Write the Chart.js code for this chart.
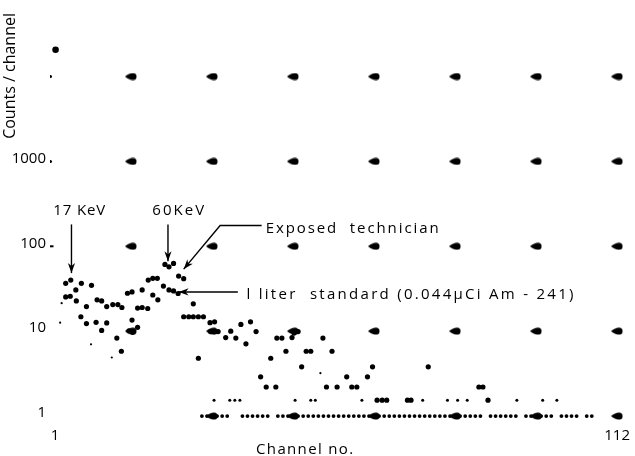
<!DOCTYPE html>
<html><head><meta charset="utf-8">
<script src="https://cdn.jsdelivr.net/npm/chart.js@4/dist/chart.umd.min.js"></script>
<style>html,body{margin:0;padding:0;background:#fff;}#wrap{width:635px;height:456px;}</style>
</head><body><div id="wrap"><canvas id="c" width="635" height="456"></canvas></div>
<script>
// ---- data ----
const spectrumChannels = [3.1,4.1,6.2,8.2,5.1,3.1,4.0,5.2,7.2,9.3,10.2,11.2,12.4,13.4,14.2,6.1,7.2,9.1,11.2,10.2,13.2,14.1,15.3,16.2,18.2,19.4,20.3,21.2,20.3,17.3,18.2,19.3,16.2,15.6,16.3,17.3,21.3,22.7,23.5,24.4,25.4,26.4,22.4,23.5,24.4,25.3,28.3,26.4,27.4,28.3,29.3,30.3,31.6,32.5,31.7,32.4,33.2,34.7,35.7,36.7,37.7,39.6,40.7,38.7,29.3,44.8,45.8,47.8,48.2,49.0,53.9,46.6,50.6,51.5,55.7,43.6,49.7,41.6,58.6,42.7,44.6,54.6,56.7,59.6,60.6,62.7,63.7,74.7,84.7,85.5,86.5,64.6,65.6,66.5,70.6,71.3];
const spectrumCounts = [36.6,40,36.6,34.7,30.6,25.3,25.8,22.7,19.5,23.4,22.7,19.5,20.6,20.6,19.0,14.8,12.3,12.7,12.5,10.2,8.3,5.8,28.0,29.0,30.6,40.0,41.9,41.9,26.7,18.7,19.0,18.5,13.5,10.1,9.7,11.1,23.4,61.1,57.3,62.8,44.6,41.5,34.0,30.6,29.8,27.8,21.0,14.8,14.8,14.8,14.8,14.8,12.6,12.9,9.9,9.9,9.9,8.4,10.0,8.3,12.0,12.9,9.9,7.1,4.8,8.3,8.3,8.4,9.5,9.9,8.3,5.8,5.8,5.8,5.8,4.8,3.8,2.9,2.9,2.2,2.2,2.2,2.2,2.2,2.2,2.9,3.8,3.8,2.2,2.2,1.54,1.54,1.54,1.54,1.54,1.54];
const faintChannels = [2.0,2.3,8.1,12.2,53.4,32.4,35.5,36.5,37.5,48.4,51.5,52.4,61.6,73.6,78.5,80.5,82.4,92.2,97.3,100.1];
const faintCounts = [12.6,21.4,7.0,4.9,3.2,1.54,1.54,1.54,1.54,1.54,1.54,1.54,1.54,1.54,1.54,1.54,1.54,1.54,1.54,1.54];
const baselineChannels = [30,31,32,33,34,35,38,39,40,41,42,43,45,46,47,48,49,50,51,52,53,54,55,56,57,58,59,60,61,62,63,64,65,66,67,68,69,70,71,72,73,74,75,76,77,78,79,80,81,82,83,84,85,87,88,89,90,91,92,94,95,96,97,98,99,101,102,103,104,106,107];
const baselineCounts = [1,1,1,1,1,1,1,1,1,1,1,1,1,1,1,1,1,1,1,1,1,1,1,1,1,1,1,1,1,1,1,1,1,1,1,1,1,1,1,1,1,1,1,1,1,1,1,1,1,1,1,1,1,1,1,1,1,1,1,1,1,1,1,1,1,1,1,1,1,1,1];
// grid-mark positions (decade rows x channel columns)
const gridColumns = [16,32,48,64,80,96,112];
const gridRows = [10000,1000,100,10];
const gridColumnsRow1 = [32,48,64,80,96,112];
// ticks
const xTickValues = [1,112];
const xTickLabels = ['1','112'];
const yTickValues = [1,10,100,1000];
const yTickLabels = ['1','10','100','1000'];

const FONT = '"Open Sans","DejaVu Sans",sans-serif';

function pts(xs, ys){ return xs.map((x,i)=>({x:x, y:ys[i]})); }

const gridData = [];
gridRows.forEach(r=>gridColumns.forEach(c=>gridData.push({x:c,y:r})));
gridColumnsRow1.forEach(c=>gridData.push({x:c,y:1}));

// teardrop marker pointing left
const tear = document.createElement('canvas');
tear.width = 12; tear.height = 8;
(function(){
  const g = tear.getContext('2d');
  g.fillStyle = '#000';
  g.beginPath();
  g.moveTo(0,4);
  g.bezierCurveTo(2.5,1.8,5,0.5,8,0.5);
  g.arc(8,4,3.5,-Math.PI/2,Math.PI/2);
  g.bezierCurveTo(5,7.5,2.5,6.2,0,4);
  g.fill();
})();

const annotations = {
  texts: [
    {text:'17 KeV', x:0.64, y:235, width:52, size:15},
    {text:'60KeV', x:20.2, y:235, width:52, size:15},
    {text:'Exposed  technician', x:42.6, y:143, width:173, size:15},
    {text:'l liter  standard (0.044\u03BCCi Am - 241)', x:38.8, y:24.0, width:327, size:15}
  ],
  arrows: [
    {path:[[4.24,181],[4.24,48.3]]},
    {path:[[23.3,181],[23.3,66.8]]},
    {path:[[41.8,176],[33.6,176],[26.4,53.8]]},
    {path:[[37.1,29],[25.4,29]]}
  ],
  xTitle: {text:'Channel no.', x:40.7, width:97, size:15, below:29}
};

function fitText(ctx, text, size, width){
  ctx.font = '400 ' + size + 'px ' + FONT;
  ctx.letterSpacing = '0px';
  const w = ctx.measureText(text).width;
  const n = [...text].length;
  ctx.letterSpacing = ((width - w)/(n-1)).toFixed(2) + 'px';
}

const annotationPlugin = {
  id:'annot',
  afterDatasetsDraw(chart){
    const ctx = chart.ctx, xs = chart.scales.x, ys = chart.scales.y;
    const P = (a)=>[xs.getPixelForValue(a[0]), ys.getPixelForValue(a[1])];
    ctx.save();
    ctx.fillStyle = '#000'; ctx.strokeStyle = '#000';
    ctx.textBaseline = 'alphabetic'; ctx.textAlign = 'left';
    annotations.texts.forEach(t=>{
      fitText(ctx, t.text, t.size, t.width);
      const p = P([t.x,t.y]);
      ctx.fillText(t.text, p[0], p[1]);
    });
    const xt = annotations.xTitle;
    fitText(ctx, xt.text, xt.size, xt.width);
    ctx.fillText(xt.text, xs.getPixelForValue(xt.x), chart.chartArea.bottom + xt.below);
    ctx.letterSpacing = '0px';
    ctx.lineWidth = 1.4;
    annotations.arrows.forEach(a=>{
      const pp = a.path.map(P);
      ctx.beginPath();
      ctx.moveTo(pp[0][0], pp[0][1]);
      for (let i=1;i<pp.length;i++) ctx.lineTo(pp[i][0], pp[i][1]);
      ctx.stroke();
      const e = pp[pp.length-1], s = pp[pp.length-2];
      const ang = Math.atan2(e[1]-s[1], e[0]-s[0]);
      const L = 10, W = 3.6;
      ctx.beginPath();
      ctx.moveTo(e[0], e[1]);
      ctx.lineTo(e[0]-L*Math.cos(ang)+W*Math.sin(ang), e[1]-L*Math.sin(ang)-W*Math.cos(ang));
      ctx.lineTo(e[0]-0.7*L*Math.cos(ang), e[1]-0.7*L*Math.sin(ang));
      ctx.lineTo(e[0]-L*Math.cos(ang)-W*Math.sin(ang), e[1]-L*Math.sin(ang)+W*Math.cos(ang));
      ctx.closePath();
      ctx.fill();
    });
    ctx.restore();
  }
};

new Chart(document.getElementById('c'), {
  type:'scatter',
  data:{ datasets:[
    {label:'grid', data:gridData, pointStyle:tear, pointRadius:5, backgroundColor:'#000', borderWidth:0},
    {label:'axis marks', data:[{x:0.1,y:10000},{x:0.1,y:1000}], pointRadius:1.5, backgroundColor:'#000', borderWidth:0},
    {label:'axis big', data:[{x:1.1,y:20700}], pointRadius:3.3, backgroundColor:'#000', borderWidth:0},
    {label:'axis dash', data:[{x:0.2,y:100}], pointStyle:'line', pointRadius:2.5, borderColor:'#000', borderWidth:2},
    {label:'Exposed technician / 1 liter standard', data:pts(spectrumChannels, spectrumCounts), pointRadius:2.6, backgroundColor:'#000', borderWidth:0},
    {label:'faint', data:pts(faintChannels, faintCounts), pointRadius:(c)=> (c.raw && c.raw.y<2) ? 1.5 : 1.1, backgroundColor:'#000', borderWidth:0},
    {label:'baseline', data:pts(baselineChannels, baselineCounts), pointRadius:1.9, backgroundColor:'#000', borderWidth:0}
  ]},
  options:{
    responsive:false, animation:false, devicePixelRatio:1,
    layout:{padding:{top:10,left:0,right:0,bottom:0}},
    plugins:{legend:{display:false}, tooltip:{enabled:false}},
    scales:{
      x:{ type:'linear', min:0, max:114.35,
        afterFit(s){ s.height = 31; },
        afterBuildTicks(s){ s.ticks = xTickValues.map(v=>({value:v})); },
        ticks:{ callback:(v,i)=>xTickLabels[i], color:'#000', font:{family:FONT,size:15,weight:'400'}, padding:2, maxRotation:0, autoSkip:false },
        grid:{display:false, drawTicks:false}, border:{display:false},
        title:{display:false}
      },
      y:{ type:'logarithmic', min:0.785, max:56000,
        afterFit(s){ s.width = 50; },
        afterBuildTicks(s){ s.ticks = yTickValues.map(v=>({value:v})); },
        ticks:{ callback:(v,i)=>yTickLabels[i], color:'#000', font:{family:FONT,size:15,weight:'400'}, padding:4, labelOffset:-3, autoSkip:false },
        grid:{display:false, drawTicks:false}, border:{display:false},
        title:{display:true, text:'Counts / channel', align:'end', color:'#000', font:{family:FONT,size:16,weight:'400'}, padding:{top:1,bottom:0}}
      }
    }
  },
  plugins:[annotationPlugin]
});
</script></body></html>
